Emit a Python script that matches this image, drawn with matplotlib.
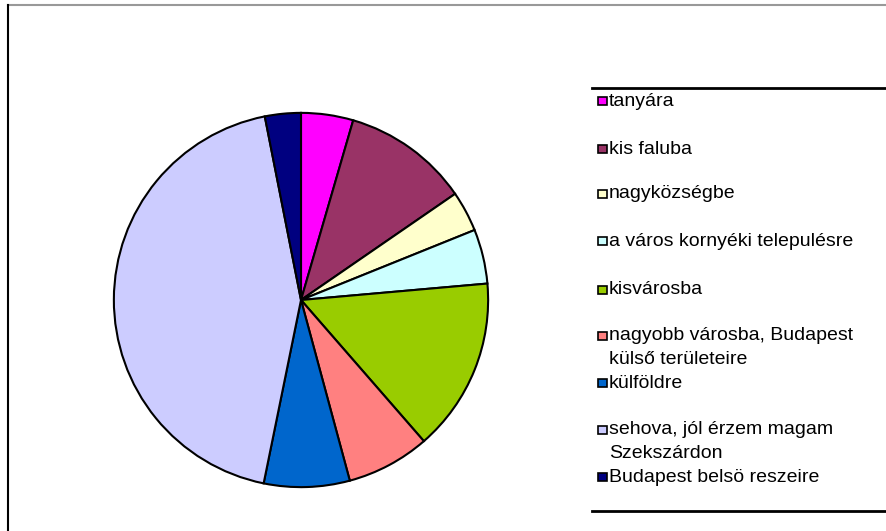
import matplotlib
matplotlib.use("Agg")
import matplotlib.pyplot as plt
from matplotlib.patches import Rectangle
from matplotlib.lines import Line2D

plt.rcParams['font.family'] = ['Liberation Sans', 'DejaVu Sans']

# slice shares in percent
labels = [
    "tanyára",
    "kis faluba",
    "nagyközségbe",
    "a város kornyéki telepulésre",
    "kisvárosba",
    "nagyobb városba, Budapest\nkülső területeire",
    "külföldre",
    "sehova, jól érzem magam\nSzekszárdon",
    "Budapest belsö reszeire",
]
shares = [4.5, 10.9, 3.5, 4.7, 15.0, 7.2, 7.4, 43.7, 3.1]
colors = ["#FF00FF", "#993366", "#FFFFCC", "#CCFFFF", "#99CC00",
          "#FF8080", "#0066CC", "#CCCCFF", "#000080"]

W, H = 886, 531
fig = plt.figure(figsize=(W / 100, H / 100), dpi=100)

def fx(px):
    return px / W

def fy(py):
    return 1 - py / H

# outer frame lines
fig.add_artist(Line2D([fx(8), fx(885)], [fy(5), fy(5)], color="#999999", lw=1.5))
fig.add_artist(Line2D([fx(8), fx(8)], [fy(5), fy(531)], color="black", lw=1.5))

# pie
ax = fig.add_axes([fx(111), fy(489), fx(380), 378 / H])
ax.pie(shares, colors=colors, startangle=90, counterclock=False,
       wedgeprops=dict(edgecolor="black", linewidth=1.5))
ax.set_xlim(-1.01, 1.01)
ax.set_ylim(-1.01, 1.01)
ax.set_aspect("equal")
ax.axis("off")

# legend, drawn by hand to keep Excel's uneven spacing
fig.add_artist(Line2D([fx(592), fx(885)], [fy(88), fy(88)], color="black", lw=2))
fig.add_artist(Line2D([fx(592), fx(885)], [fy(511), fy(511)], color="black", lw=2))
rows_y = [101, 149, 194, 241, 290, 336, 383, 430, 477]
for lab, col, y in zip(labels, colors, rows_y):
    fig.add_artist(Rectangle((fx(598), fy(y + 4)), 9 / W, 8 / H,
                             facecolor=col, edgecolor="black", lw=1.2,
                             transform=fig.transFigure))
    for i, line in enumerate(lab.split("\n")):
        fig.text(fx(609), fy(y + 23 * i), line, fontsize=14, va="center",
                 ha="left", color="black")

fig.savefig("out.png", dpi=100)
